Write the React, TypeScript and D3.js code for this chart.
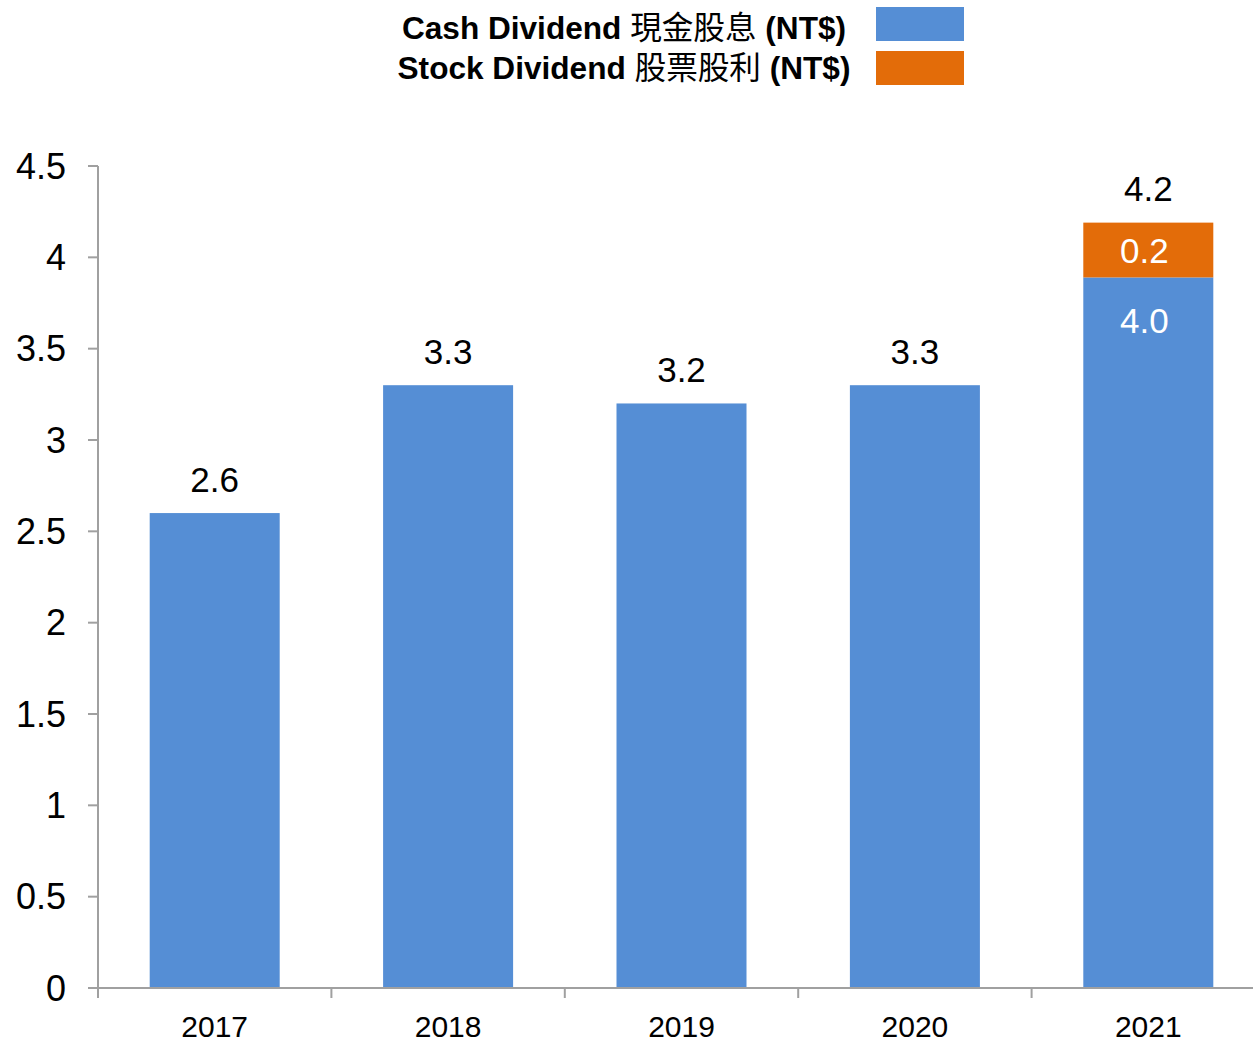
import * as d3 from "d3";

const WIDTH = 1253;
const HEIGHT = 1042;
const MARGIN = { top: 166, right: -12, bottom: 54, left: 98 };

const years = ["2017", "2018", "2019", "2020", "2021"];
const cashDividend = [2.6, 3.3, 3.2, 3.3, 3.89];
const stockDividend = [0, 0, 0, 0, 0.3];
const totalLabels = ["2.6", "3.3", "3.2", "3.3", "4.2"];
const cashLabels = ["", "", "", "", "4.0"];
const stockLabels = ["", "", "", "", "0.2"];
const yTicks = [0, 0.5, 1, 1.5, 2, 2.5, 3, 3.5, 4, 4.5];

// legend text split so the CJK part can be drawn in normal weight
const seriesNames = [
  ["Cash Dividend ", "現金股息", " (NT$)"],
  ["Stock Dividend ", "股票股利", " (NT$)"],
];
const seriesColors = ["#558ED5", "#E36C09"];

const FONT = "'Liberation Sans', Arial, 'Noto Sans CJK TC', sans-serif";
const AXIS_COLOR = "#A0A0A0";

export default function App() {
  const x = d3
    .scaleBand()
    .domain(years)
    .range([MARGIN.left, WIDTH - MARGIN.right])
    .paddingInner(0.443)
    .paddingOuter(0.2215);
  const y = d3
    .scaleLinear()
    .domain([0, 4.5])
    .range([HEIGHT - MARGIN.bottom, MARGIN.top]);

  const rows = years.map((year, i) => ({
    year,
    cash: cashDividend[i],
    stock: stockDividend[i],
  }));
  const stacked = d3.stack<any>().keys(["cash", "stock"])(rows);

  const step = x.step();
  const boundaries = years.map((yr) => (x(yr) as number) - (step - x.bandwidth()) / 2);
  boundaries.push(boundaries[boundaries.length - 1] + step);
  const base = y(0);

  return (
    <svg
      width={WIDTH}
      height={HEIGHT}
      style={{ position: "absolute", left: 0, top: 0, background: "#fff" }}
      fontFamily={FONT}
    >
      {/* legend */}
      {seriesNames.map((parts, i) => (
        <g key={parts[0]}>
          <text
            x={624}
            y={28 + i * 40}
            textAnchor="middle"
            dominantBaseline="central"
            fontSize={31.6}
            fontWeight="bold"
            fill="#000"
          >
            <tspan>{parts[0]}</tspan>
            <tspan fontWeight="normal">{parts[1]}</tspan>
            <tspan>{parts[2]}</tspan>
          </text>
          <rect
            x={876}
            y={7 + i * 44}
            width={88}
            height={34}
            fill={seriesColors[i]}
          />
        </g>
      ))}

      {/* bars */}
      {stacked.map((layer, li) =>
        layer.map((d, i) =>
          d[1] - d[0] > 0 ? (
            <rect
              key={`${li}-${i}`}
              x={x(years[i])}
              y={y(d[1])}
              width={x.bandwidth()}
              height={y(d[0]) - y(d[1])}
              fill={seriesColors[li]}
            />
          ) : null,
        ),
      )}

      {/* y axis */}
      <line x1={MARGIN.left} x2={MARGIN.left} y1={y(4.5)} y2={base} stroke={AXIS_COLOR} strokeWidth={2} />
      {yTicks.map((t) => (
        <g key={t}>
          <line x1={MARGIN.left - 10} x2={MARGIN.left} y1={y(t)} y2={y(t)} stroke={AXIS_COLOR} strokeWidth={2} />
          <text
            x={MARGIN.left - 32}
            y={y(t)}
            textAnchor="end"
            dominantBaseline="central"
            fontSize={36}
            fill="#000"
          >
            {d3.format("~g")(t)}
          </text>
        </g>
      ))}

      {/* x axis */}
      <line x1={MARGIN.left - 10} x2={WIDTH} y1={base} y2={base} stroke={AXIS_COLOR} strokeWidth={2} />
      {boundaries.map((bx, i) => (
        <line key={i} x1={bx} x2={bx} y1={base} y2={base + 10} stroke={AXIS_COLOR} strokeWidth={2} />
      ))}
      {years.map((yr) => (
        <text
          key={yr}
          x={(x(yr) as number) + x.bandwidth() / 2}
          y={base + 38}
          textAnchor="middle"
          dominantBaseline="central"
          fontSize={30}
          fill="#000"
        >
          {yr}
        </text>
      ))}

      {/* value labels */}
      {rows.map((r, i) => {
        const cx = (x(r.year) as number) + x.bandwidth() / 2;
        const top = y(r.cash + r.stock);
        return (
          <g key={r.year}>
            <text x={cx} y={top - 34} textAnchor="middle" dominantBaseline="central" fontSize={35} fill="#000">
              {totalLabels[i]}
            </text>
            {stockLabels[i] && (
              <text
                x={cx - 4}
                y={(y(r.cash) + top) / 2}
                textAnchor="middle"
                dominantBaseline="central"
                fontSize={35}
                fill="#fff"
              >
                {stockLabels[i]}
              </text>
            )}
            {cashLabels[i] && (
              <text
                x={cx - 4}
                y={y(r.cash) + 43}
                textAnchor="middle"
                dominantBaseline="central"
                fontSize={35}
                fill="#fff"
              >
                {cashLabels[i]}
              </text>
            )}
          </g>
        );
      })}
    </svg>
  );
}
